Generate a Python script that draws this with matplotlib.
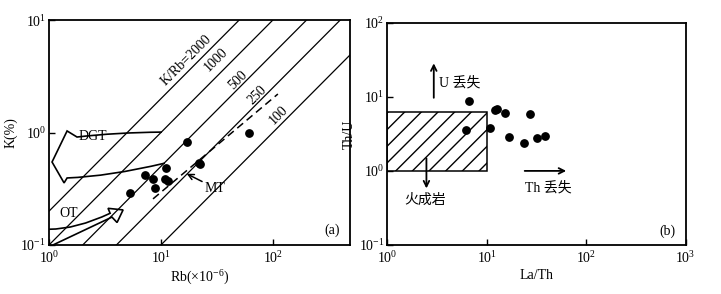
import matplotlib
matplotlib.use('Agg')
import matplotlib.pyplot as plt
import numpy as np
from matplotlib.path import Path
from matplotlib.patches import PathPatch, Rectangle

plt.rcParams['font.family'] = ['Liberation Serif', 'Noto Sans CJK SC']
plt.rcParams['mathtext.fontset'] = 'custom'
plt.rcParams['mathtext.rm'] = 'Liberation Serif'
plt.rcParams['mathtext.default'] = 'regular'
plt.rcParams['font.size'] = 10

# (a) K vs Rb
rb = [5.3, 7.2, 8.5, 8.8, 11.1, 10.8, 11.6, 17, 22, 22.4, 60.7]
k = [0.29, 0.42, 0.39, 0.32, 0.48, 0.39, 0.37, 0.83, 0.54, 0.52, 1.0]
ratios = [2000, 1000, 500, 250, 100]
ratio_labels = ['K/Rb=2000', '1000', '500', '250', '100']
label_x = [17, 31.4, 49, 72.4, 111.5]
label_y = [4.4, 4.47, 2.93, 2.15, 1.43]
mt_rb = [8.5, 111]
mt_k = [0.257, 2.2]

# (b) Th/U vs La/Th
la_th = [6.6, 6.26, 10.9, 12.05, 12.7, 15.3, 16.8, 23.6, 27.5, 32.1, 38.9]
th_u = [8.7, 3.56, 3.83, 6.6, 6.85, 6.0, 2.9, 2.35, 5.86, 2.8, 2.96]
box_x = [1, 10]
box_y = [1, 6.2]

fig = plt.figure(figsize=(7.21, 2.94), dpi=100)
ax1 = fig.add_axes([0.068, 0.1667, 0.4175, 0.765])
ax2 = fig.add_axes([0.537, 0.1667, 0.414, 0.756])

for ax in (ax1, ax2):
    ax.set_xscale('log')
    ax.set_yscale('log')
    for s in ax.spines.values():
        s.set_linewidth(1.3)
    ax.tick_params(which='major', direction='in', length=4, width=1, labelsize=10, pad=2)
    ax.tick_params(axis='x', which='major', pad=4)
    ax.tick_params(which='minor', length=0)

# ---- panel a
ax1.set_xlim(1, 490)
ax1.set_ylim(0.1, 10)
xx = np.array([1, 490])
for r in ratios:
    ax1.plot(xx, r * xx / 1e4, color='black', lw=0.9)
for t, x, y in zip(ratio_labels, label_x, label_y):
    ax1.text(x, y, t, rotation=45, ha='center', va='center', fontsize=10)
ax1.plot(mt_rb, mt_k, color='black', lw=1.1, ls=(0, (5, 3)))
ax1.scatter(rb, k, s=28, color='black', zorder=3)

# DGT 속이 빈 화살표
dgt = [(0.375, 0.502), (0.22, 0.500), (0.093, 0.48), (0.060, 0.507), (0.010, 0.369),
       (0.050, 0.276), (0.060, 0.298), (0.20, 0.305), (0.385, 0.364)]
codes = [Path.MOVETO, Path.CURVE3, Path.CURVE3, Path.LINETO, Path.LINETO,
         Path.LINETO, Path.LINETO, Path.CURVE3, Path.CURVE3]
ax1.add_patch(PathPatch(Path(dgt, codes), transform=ax1.transAxes, fill=False, lw=1.2))
# OT 속이 빈 화살표
ot = [(0.0, 0.07), (0.09, 0.07), (0.203, 0.141), (0.196, 0.163), (0.246, 0.156),
      (0.226, 0.100), (0.209, 0.124), (0.013, 0.0)]
codes = [Path.MOVETO, Path.CURVE3, Path.CURVE3, Path.LINETO, Path.LINETO,
         Path.LINETO, Path.LINETO, Path.LINETO]
ax1.add_patch(PathPatch(Path(ot, codes), transform=ax1.transAxes, fill=False, lw=1.2, clip_on=False))

ax1.text(1.85, 0.92, 'DGT', ha='left', va='center')
ax1.text(1.25, 0.19, 'OT', ha='left', va='center')
ax1.annotate('MT', xy=(17, 0.43), xytext=(24.7, 0.32), ha='left', va='center',
             arrowprops=dict(arrowstyle='->', lw=1.1, color='black', shrinkA=0, shrinkB=0))
ax1.text(291, 0.134, '(a)', ha='left', va='center')
ax1.set_xlabel('Rb(×10$^{-6}$)', labelpad=2)
ax1.set_ylabel('K(%)', labelpad=2)

# ---- panel b
ax2.set_xlim(1, 1000)
ax2.set_ylim(0.1, 100)
ax2.add_patch(Rectangle((box_x[0], box_y[0]), box_x[1] - box_x[0], box_y[1] - box_y[0],
                        fill=False, hatch='//', lw=1.1, edgecolor='black'))
ax2.scatter(la_th, th_u, s=28, color='black', zorder=3)
ax2.annotate('', xy=(2.94, 28.3), xytext=(2.94, 9.7),
             arrowprops=dict(arrowstyle='->', lw=1.3, color='black', shrinkA=0, shrinkB=0))
ax2.text(3.33, 15.5, 'U 丢失', ha='left', va='center')
ax2.annotate('', xy=(2.48, 0.58), xytext=(2.48, 1.48),
             arrowprops=dict(arrowstyle='->', lw=1.3, color='black', shrinkA=0, shrinkB=0))
ax2.text(2.39, 0.40, '火成岩', ha='center', va='center')
ax2.annotate('', xy=(63, 1.0), xytext=(24.1, 1.0),
             arrowprops=dict(arrowstyle='->', lw=1.3, color='black', shrinkA=0, shrinkB=0))
ax2.text(24, 0.59, 'Th 丢失', ha='left', va='center')
ax2.text(538, 0.155, '(b)', ha='left', va='center')
ax2.set_xlabel('La/Th', labelpad=2)
ax2.set_ylabel('Th/U', labelpad=2)

fig.savefig('out.png', dpi=100)
